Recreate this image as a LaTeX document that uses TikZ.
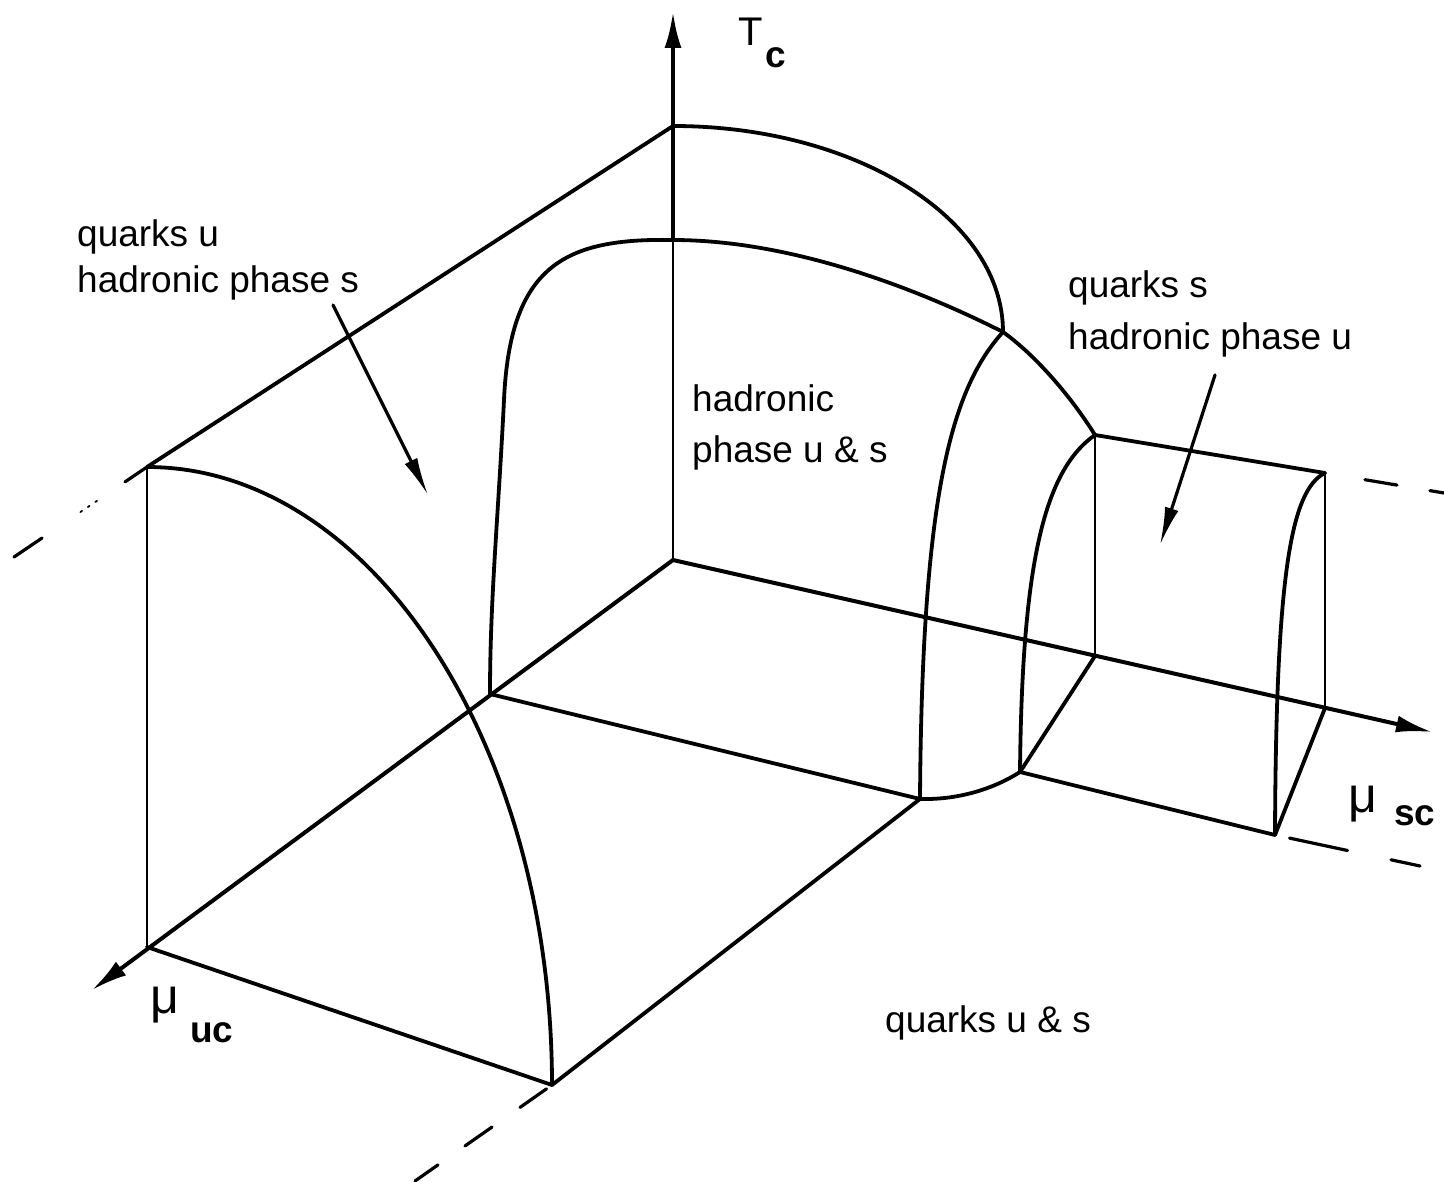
\documentclass[tikz,border=0pt]{standalone}
\usepackage{fontspec}
\setmainfont{Liberation Sans}
\usetikzlibrary{arrows.meta,calc}
\begin{document}
\begin{tikzpicture}[x=1pt,y=-1pt,line join=round,line cap=round,
  edge/.style={line width=3.8pt},
  thinedge/.style={line width=2.2pt},
  midedge/.style={line width=2.8pt},
  axis/.style={line width=4pt,-{Latex[length=36pt,width=17pt]}},
  pointer/.style={line width=3.2pt,-{Latex[length=38pt,width=14pt]}},
  lbl/.style={font=\fontsize{37}{46}\selectfont,anchor=base west,inner sep=0pt},
  mu/.style={font=\fontsize{50}{50}\selectfont,anchor=base west,inner sep=0pt},
  sub/.style={font=\fontsize{37}{37}\selectfont\bfseries,anchor=base west,inner sep=0pt},
  dashpart/.style={line width=3.2pt},
  dotpart/.style={line width=1.8pt,dash pattern=on 2pt off 7pt}]
\useasboundingbox (0,0) rectangle (1444,1182);
% key points
\coordinate (O) at (673,560);
\coordinate (A) at (673,126);
\coordinate (B) at (673,240);
\coordinate (Ttip) at (673,12);
\coordinate (P) at (147,467);
\coordinate (Q) at (147,947);
\coordinate (R) at (552,1085);
\coordinate (S) at (490,694);
\coordinate (U) at (920,799);
\coordinate (V) at (1003,332);
\coordinate (W) at (1095,435);
\coordinate (X) at (1020,772);
\coordinate (Y) at (1095,656);
\coordinate (Z) at (1325,473);
\coordinate (Zb) at (1325,708);
\coordinate (Zc) at (1275,835);
\coordinate (Stip) at (1432,732);
\coordinate (Utip) at (92,990);
% dashed extension ends
\coordinate (Lend) at (14,557);
\coordinate (Rend) at (1444,493);
\coordinate (Bend) at (1420,866);
\coordinate (Dend) at (415,1181);
% axes
\draw[axis] (B) -- (Ttip);
\draw[thinedge] (O) -- (B);
\draw[axis] (O) -- (Stip);
\draw[axis] (O) -- (Utip);
% left block
\draw[edge] (P) -- (A);
\draw[thinedge] (P) -- (Q);
\draw[edge] (Q) -- (R);
\draw[edge] (P) .. controls (371,467) and (552,744) .. (R);
% outer arc and inner dome
\draw[edge] (A) .. controls (855,126) and (1003,218) .. (V);
\draw[edge] (B) .. controls (565,238) and (510,265) .. (504,400)
               .. controls (498,520) and (490,600) .. (S);
\draw[edge] (B) .. controls (780,240) and (900,280) .. (V);
\draw[edge] (V) .. controls (950,390) and (922,500) .. (U);
\draw[edge] (S) -- (U);
\draw[edge] (U) -- (R);
\draw[edge] (U) .. controls (960,800) and (995,788) .. (X);
% right block
\draw[edge] (V) .. controls (1035,355) and (1070,395) .. (W);
\draw[edge] (W) -- (Z);
\draw[midedge] (W) -- (Y);
\draw[midedge] (Z) -- (Zb);
\draw[edge] (W) .. controls (1045,470) and (1022,560) .. (X);
\draw[edge] (Z) .. controls (1290,490) and (1276,580) .. (Zc);
\draw[edge] (Y) -- (X);
\draw[edge] (Zb) -- (Zc);
\draw[edge] (X) -- (Zc);
% dashed extensions
\draw[dashpart] (P) -- ($(P)!0.165!(Lend)$);
\draw[dotpart] ($(P)!0.376!(Lend)$) -- ($(P)!0.534!(Lend)$);
\draw[dashpart] ($(P)!0.789!(Lend)$) -- (Lend);
\draw[dashpart] ($(Z)!0.336!(Rend)$) -- ($(Z)!0.605!(Rend)$);
\draw[dashpart] ($(Z)!0.882!(Rend)$) -- (Rend);
\draw[dashpart] ($(Zc)!0.10!(Bend)$) -- ($(Zc)!0.50!(Bend)$);
\draw[dashpart] ($(Zc)!0.80!(Bend)$) -- (Bend);
\draw[dashpart] ($(R)!0.04!(Dend)$) -- ($(R)!0.234!(Dend)$);
\draw[dashpart] ($(R)!0.438!(Dend)$) -- ($(R)!0.635!(Dend)$);
\draw[dashpart] ($(R)!0.832!(Dend)$) -- (Dend);
% labels
\node[lbl] (t1) at (77,247) {quarks u};
\node[lbl] (t2) at (77,293) {hadronic phase s};
\node[lbl] (t3) at (692,412) {hadronic};
\node[lbl] (t4) at (692,462) {phase u \& s};
\node[lbl] (t5) at (1068,298) {quarks s};
\node[lbl] (t6) at (1068,350) {hadronic phase u};
\node[lbl] (t7) at (885,1032) {quarks u \& s};
\node[anchor=base west,inner sep=0pt,font=\fontsize{40}{40}\selectfont] (tT) at (738,46) {T};
\node[sub] (tTc) at (765,68) {c};
\node[mu] (mu1) at (150,1013) {μ};
\node[sub] (mu1s) at (190,1042) {uc};
\node[mu] (mu2) at (1348,812) {μ};
\node[sub] (mu2s) at (1394,825) {sc};
% pointers
\coordinate (a1s) at (333,305);
\coordinate (a1e) at (428,495);
\coordinate (a2s) at (1215,375);
\coordinate (a2e) at (1160,545);
\draw[pointer] (a1s) -- (a1e);
\draw[pointer] (a2s) -- (a2e);
\end{tikzpicture}
\end{document}
